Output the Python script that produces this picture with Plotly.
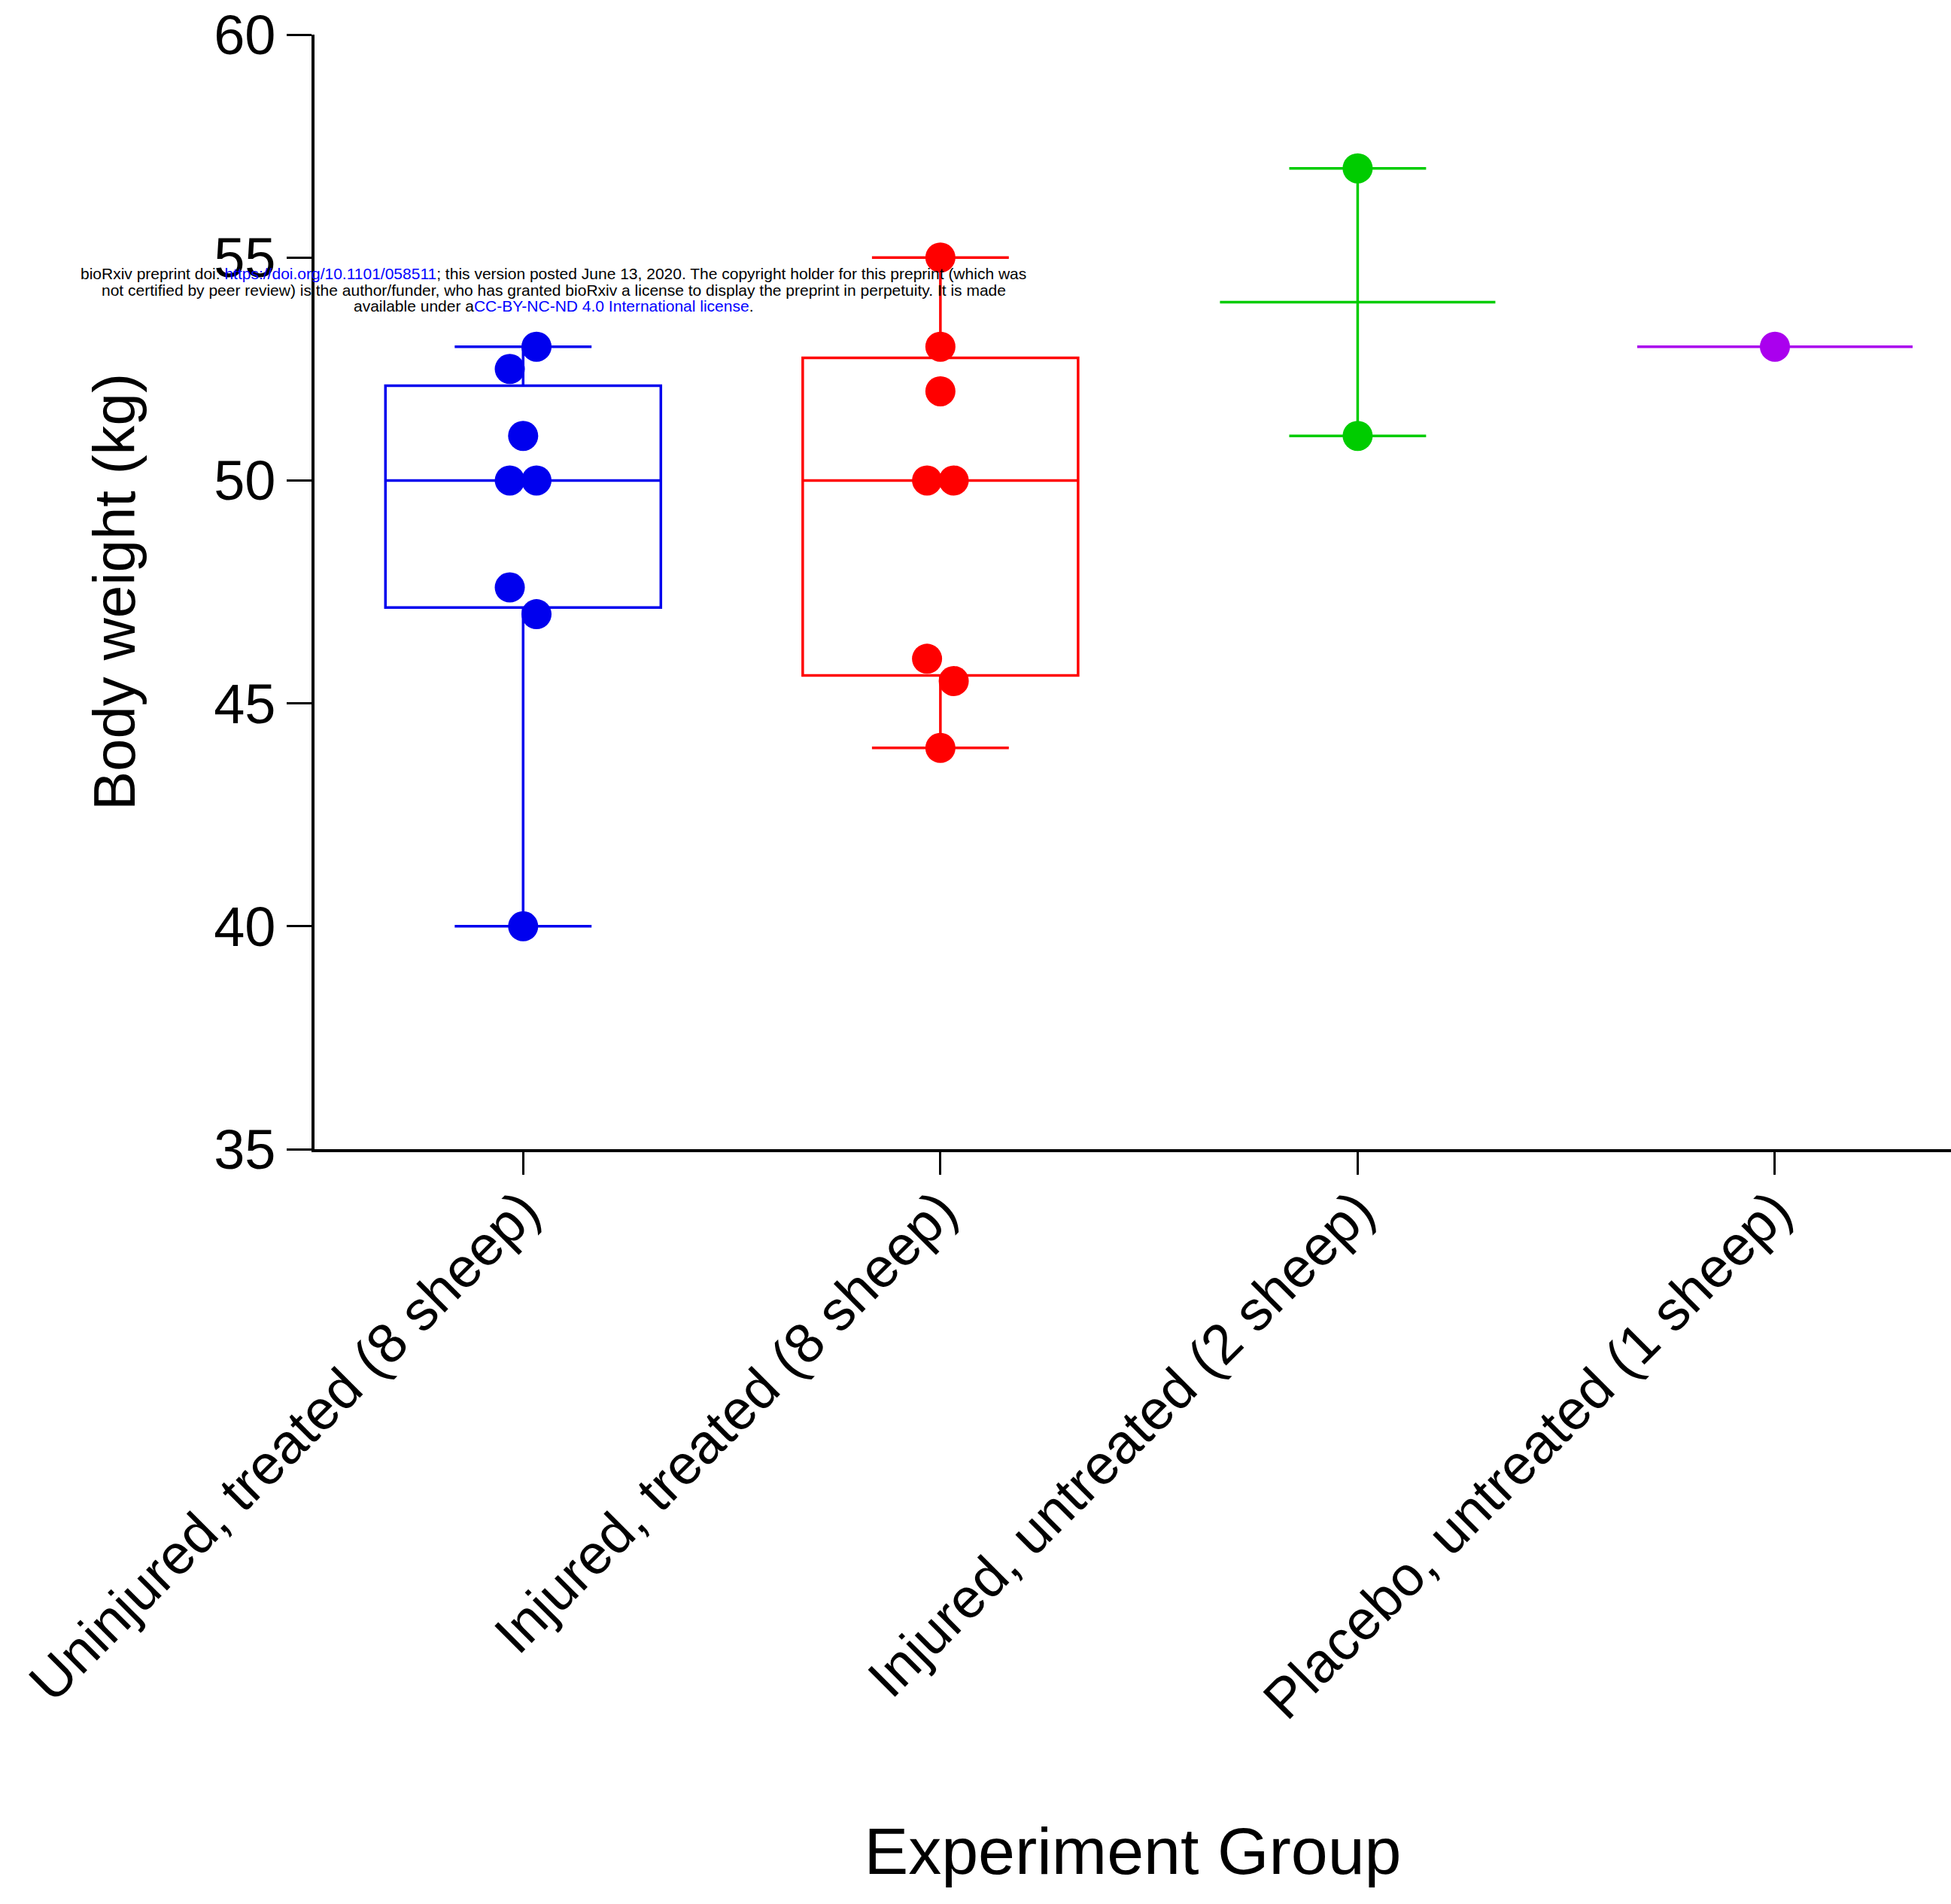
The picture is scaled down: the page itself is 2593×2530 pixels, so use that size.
import numpy as np
import plotly.graph_objects as go

# ---------------- data ----------------
categories = [
    "Uninjured, treated (8 sheep)",
    "Injured, treated (8 sheep)",
    "Injured, untreated (2 sheep)",
    "Placebo, untreated (1 sheep)",
]
uninjured_treated = [53, 52.5, 51, 50, 50, 47.6, 47, 40]
injured_treated = [55, 53, 52, 50, 50, 46, 45.5, 44]
injured_untreated = [57, 51]
placebo_untreated = [53]

y_ticks = [35, 40, 45, 50, 55, 60]

watermark_lines = [
    "bioRxiv preprint doi: <span style='color:#0000FF'>https://doi.org/10.1101/058511</span>; "
    "this version posted June 13, 2020. The copyright holder for this preprint (which was",
    "not certified by peer review) is the author/funder, who has granted bioRxiv a license "
    "to display the preprint in perpetuity. It is made",
    "available under a<span style='color:#0000FF'>CC-BY-NC-ND 4.0 International license</span>.",
]

groups = [uninjured_treated, injured_treated, injured_untreated, placebo_untreated]
colors = ["#0000EE", "#FF0000", "#00CC00", "#AA00EE"]

FONT = "Liberation Sans, Arial, Helvetica, sans-serif"
BOX_W = 0.66
CAP_HALF = 0.164
JIT = 0.032


def stats(vals):
    v = np.asarray(vals, dtype=float)
    med = float(np.median(v))
    if len(v) >= 3:
        q1, q3 = np.percentile(v, [25, 75], method="weibull")
    else:
        q1 = q3 = med
    return float(q1), med, float(q3), float(v.min()), float(v.max())


def offsets(vals, med, gap=0.65, d=JIT):
    v = np.asarray(vals, dtype=float)
    order = np.argsort(v, kind="stable")
    off = np.zeros(len(v))
    clusters, cur = [], [order[0]]
    for a, b in zip(order[:-1], order[1:]):
        if v[b] - v[a] < gap:
            cur.append(b)
        else:
            clusters.append(cur)
            cur = [b]
    clusters.append(cur)
    for c in clusters:
        if len(c) < 2:
            continue
        c = sorted(c, key=lambda i: abs(v[i] - med))
        k = len(c)
        pos = np.linspace(-d * (k - 1), d * (k - 1), k)
        for i, p in zip(c, pos):
            off[i] = p
    return off


fig = go.Figure()

for i, (vals, col) in enumerate(zip(groups, colors)):
    q1, med, q3, lo, hi = stats(vals)
    fig.add_trace(go.Box(
        x=[i], q1=[q1], median=[med], q3=[q3], lowerfence=[lo], upperfence=[hi],
        width=BOX_W, boxpoints=False, whiskerwidth=0,
        line=dict(color=col, width=3.5), fillcolor="rgba(0,0,0,0)",
        hoverinfo="skip", showlegend=False,
    ))
    if len(vals) > 1:
        fig.add_trace(go.Scatter(
            x=[i - CAP_HALF, i + CAP_HALF, None, i - CAP_HALF, i + CAP_HALF],
            y=[hi, hi, None, lo, lo],
            mode="lines", line=dict(color=col, width=3.5),
            hoverinfo="skip", showlegend=False,
        ))
    off = offsets(vals, med)
    fig.add_trace(go.Scatter(
        x=i + off, y=vals, mode="markers",
        marker=dict(color=col, size=40, line=dict(width=0)),
        showlegend=False, name=categories[i],
    ))

for line, yp in zip(watermark_lines, [0.7853, 0.7711, 0.7563]):
    fig.add_annotation(
        text=line, xref="paper", yref="paper", x=0.146, y=yp,
        xanchor="center", yanchor="middle", showarrow=False, align="center",
        font=dict(family=FONT, size=21, color="black"),
    )

fig.update_layout(
    width=2593, height=2530,
    margin=dict(l=418, r=0, t=46, b=1003),
    paper_bgcolor="white", plot_bgcolor="white",
    template="none", showlegend=False,
    font=dict(family=FONT, color="black"),
    xaxis=dict(
        range=[-0.5, 3.422], tickmode="array", tickvals=list(range(len(categories))),
        ticktext=categories, tickangle=-45, ticks="outside", ticklen=30, tickwidth=3,
        tickcolor="black", showline=True, linewidth=3.5, linecolor="black",
        showgrid=False, zeroline=False, automargin=False, ticklabelstandoff=-25,
        tickfont=dict(family=FONT, size=74, color="black"),
        title=dict(text="Experiment Group", font=dict(family=FONT, size=88, color="black"),
                   standoff=130),
    ),
    yaxis=dict(
        range=[35, 60], tickmode="array", tickvals=y_ticks, ticks="outside",
        ticklen=33, tickwidth=3, tickcolor="black", showline=True, linewidth=3.5,
        linecolor="black", showgrid=False, zeroline=False, automargin=False,
        tickfont=dict(family=FONT, size=74, color="black"),
        title=dict(text="Body weight (kg)", font=dict(family=FONT, size=78, color="black"),
                   standoff=80),
    ),
)

fig.write_html("out.html")
